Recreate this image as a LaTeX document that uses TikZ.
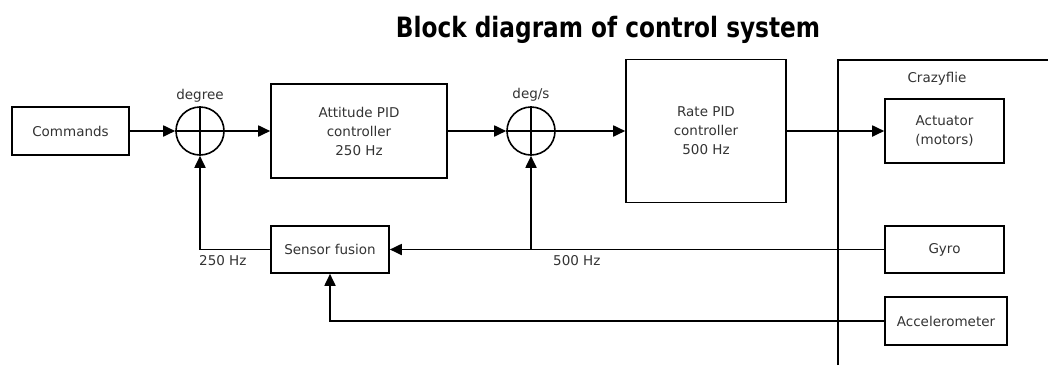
\documentclass[tikz,border=0pt]{standalone}
\usepackage{fontspec}
\setmainfont{DejaVu Sans}
\usetikzlibrary{arrows.meta}
\definecolor{txt}{HTML}{333333}
\begin{document}
\begin{tikzpicture}[x=1pt,y=-1pt,
  every node/.style={font=\fontsize{13.5}{19}\selectfont, text=txt},
  blk/.style={draw=black, line width=1.6pt, rectangle, align=center, inner sep=0pt},
  sumc/.style={draw=black, line width=1.6pt, circle, minimum size=48pt, inner sep=0pt},
  conn/.style={line width=1.8pt, -{Triangle[length=12pt,width=11pt]}},
  wire/.style={line width=1.8pt}
]
\useasboundingbox (0,0) rectangle (1048,365);
\node (title) at (608,30) {\scalebox{0.83}[1]{\fontsize{28}{30}\selectfont\bfseries\color{black}Block diagram of control system}};

\node[blk, minimum width=117pt, minimum height=48pt] (cmd) at (70.5,131) {Commands};
\node[sumc] (s1) at (200,131) {};
\node[blk, minimum width=176pt, minimum height=94pt] (att) at (359,131) {Attitude PID\\controller\\250 Hz};
\node[sumc] (s2) at (531,131) {};
\node[blk, minimum width=160pt, minimum height=143pt] (rate) at (706,131) {Rate PID\\controller\\500 Hz};
\node[blk, minimum width=119pt, minimum height=64pt] (act) at (944.5,131) {Actuator\\(motors)};
\node[blk, minimum width=119pt, minimum height=47pt] (gyro) at (944.5,249.5) {Gyro};
\node[blk, minimum width=122pt, minimum height=48pt] (acc) at (946,321) {Accelerometer};
\node[blk, minimum width=118pt, minimum height=47pt] (fus) at (330,249.5) {Sensor fusion};

\draw[line width=1.6pt] (s1.north) -- (s1.south) (s1.west) -- (s1.east);
\draw[line width=1.6pt] (s2.north) -- (s2.south) (s2.west) -- (s2.east);

\coordinate (cfb) at (838,365);
\coordinate (cft) at (838,60);
\coordinate (cfr) at (1048,60);
\draw[wire] (cfb) -- (cft) -- (cfr);
\node (cflabel) at (937,79) {Crazyflie};

\node (deg) at (200,96) {degree};
\node (degs) at (531,95) {deg/s};
\node[anchor=west, inner sep=0pt] (l250) at (199,261) {250 Hz};
\node[anchor=west, inner sep=0pt] (l500) at (553,261) {500 Hz};

\draw[conn] (cmd.east) -- (s1.west);
\draw[conn] (s1.east) -- (att.west);
\draw[conn] (att.east) -- (s2.west);
\draw[conn] (s2.east) -- (s2.east -| rate.west);
\draw[conn] (rate.east) -- (rate.east -| act.west);
\draw[conn] (gyro.west) -- (gyro.west -| fus.east);
\coordinate (br) at (s2.south |- gyro.west);
\draw[conn] (br) -- (s2.south);
\draw[conn] (fus.west) -- (s1.south |- fus.west) -- (s1.south);
\draw[conn] (acc.west) -- (fus.south |- acc.west) -- (fus.south);
\end{tikzpicture}
\end{document}
